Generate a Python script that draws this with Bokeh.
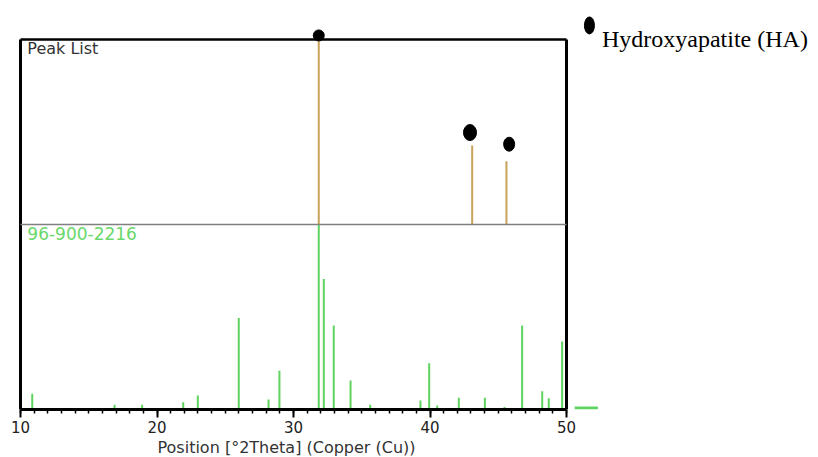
from bokeh.plotting import figure
from bokeh.models import Range1d, FixedTicker, ColumnDataSource, Title
from bokeh.core.properties import value
from bokeh.embed import file_html
from bokeh.resources import INLINE

# ---- data -----------------------------------------------------------------
# reference pattern 96-900-2216 (green sticks): 2theta and relative intensity
ref_pos = [10.86, 16.89, 18.91, 21.92, 22.99, 25.38, 25.99, 28.17, 28.97,
           31.85, 32.22, 32.95, 34.18, 35.62, 39.30, 39.94, 40.53, 42.11,
           44.02, 45.46, 46.75, 48.22, 48.70, 49.68]
ref_int = [8.5, 2.5, 2.5, 3.9, 7.6, 0.6, 49.4, 5.4, 20.9,
           100.0, 70.6, 45.4, 15.7, 2.5, 4.9, 25.0, 2.2, 6.3,
           6.3, 1.3, 45.4, 9.9, 6.1, 36.8]
ref_name = ["96-900-2216"]

# measured peak list (tan sticks): 2theta and relative intensity
peak_pos = [31.85, 43.09, 45.60]
peak_int = [100.0, 42.7, 34.2]
peak_name = ["Peak List"]

# Hydroxyapatite markers above the measured peaks (2theta, height above panel base)
marker_pos = [31.85, 42.93, 45.80]
marker_rel = [102.2, 49.7, 43.4]
legend_label = ["Hydroxyapatite (HA)"]

x_ticks = [10, 20, 30, 40, 50]
x_minor = list(range(10, 51))
x_label = "Position [°2Theta] (Copper (Cu))"

# ---- layout constants -----------------------------------------------------
X0, X1 = 10, 50          # 2theta range of the panels
PANEL = 100              # height of one panel (relative intensity units)
GREEN = "#5fd35f"
TAN = "#c9a35a"

p = figure(width=818, height=457, output_backend="svg", toolbar_location=None,
           x_range=Range1d(8.5348, 68.4615), y_range=Range1d(0, 221.08),
           y_axis_location=None,
           min_border_left=0, min_border_right=0, min_border_top=0,
           min_border_bottom=48)
p.grid.visible = False
p.outline_line_color = None
p.background_fill_color = "white"
p.border_fill_color = "white"

ax = p.xaxis[0]
ax.bounds = (X0, X1)
ax.ticker = FixedTicker(ticks=x_ticks, minor_ticks=x_minor)
ax.axis_line_color = "black"
ax.axis_line_width = 3
ax.major_tick_line_color = "black"
ax.major_tick_line_width = 2
ax.major_tick_in = 0
ax.major_tick_out = 8
ax.minor_tick_line_color = "black"
ax.minor_tick_line_width = 1.5
ax.minor_tick_in = 0
ax.minor_tick_out = 4
ax.major_label_text_font = "DejaVu Sans"
ax.major_label_text_font_size = "15px"
ax.major_label_text_color = "#222222"
ax.major_label_standoff = 3

p.add_layout(Title(text=x_label, align="left", offset=157,
                   text_font="DejaVu Sans", text_font_size="16px",
                   text_font_style="normal", text_color="#333333",
                   standoff=0), "below")

# green reference sticks (lower panel)
ref_src = ColumnDataSource(dict(x=ref_pos, top=ref_int))
p.segment(x0="x", y0=0, x1="x", y1="top", source=ref_src,
          line_color=GREEN, line_width=2)

# tan peak list sticks (upper panel)
pk_src = ColumnDataSource(dict(x=peak_pos, top=[PANEL + v for v in peak_int]))
p.segment(x0="x", y0=PANEL, x1="x", y1="top", source=pk_src,
          line_color=TAN, line_width=2)

# panel frame
p.segment(x0=[X0, X1, X0], y0=[0, 0, 2 * PANEL], x1=[X0, X1, X1],
          y1=[2 * PANEL, 2 * PANEL, 2 * PANEL],
          line_color="black", line_width=[3, 3, 2.5])
p.segment(x0=[X0], y0=[PANEL], x1=[X1], y1=[PANEL],
          line_color="#808080", line_width=1.5)

# panel names
p.text(x=[X0 + 0.5], y=[2 * PANEL - 5.0], text=peak_name,
       text_font=value("DejaVu Sans"), text_font_size="16px",
       text_color="#333333", text_baseline="alphabetic")
p.text(x=[X0 + 0.5], y=[PANEL - 5.0], text=ref_name,
       text_font=value("DejaVu Sans"), text_font_size="17px",
       text_color="#6ad86a", text_baseline="alphabetic")

# HA markers
mk_src = ColumnDataSource(dict(x=marker_pos, y=[PANEL + v for v in marker_rel],
                               w=[11, 13, 11], h=[11, 16, 14]))
p.ellipse(x="x", y="y", width="w", height="h", width_units="screen",
          height_units="screen", source=mk_src, fill_color="black",
          line_color="black")

# legend (outside the panels, to the right)
p.ellipse(x=[51.68], y=[207.6], width=10, height=17, width_units="screen",
          height_units="screen", fill_color="black", line_color="black")
p.text(x=[52.6], y=[200.2], text=legend_label,
       text_font=value("Liberation Serif"), text_font_size="24px",
       text_color="black", text_baseline="alphabetic")

# short green key mark next to the axis end
p.segment(x0=[50.6], y0=[0.8], x1=[52.3], y1=[0.8], line_color=GREEN,
          line_width=3)

open("out.html", "w").write(file_html(p, INLINE))
